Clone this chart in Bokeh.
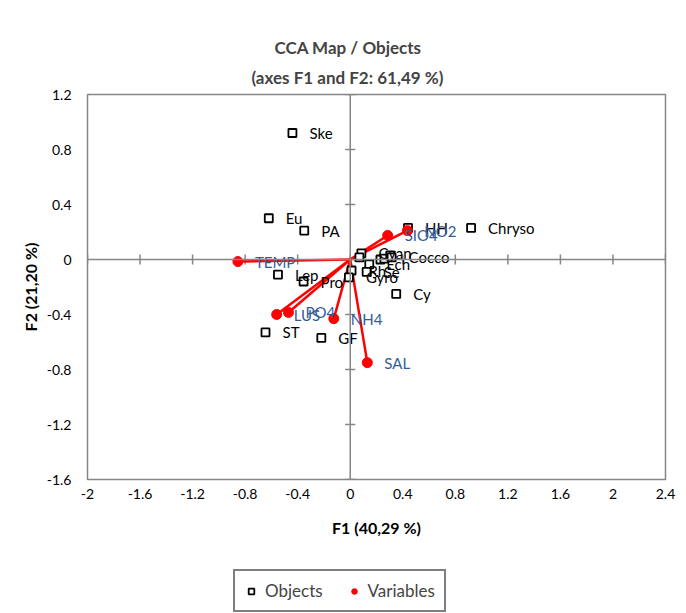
import math
from bokeh.plotting import figure
from bokeh.layouts import column
from bokeh.models import Title, Legend, LegendItem, Span, FixedTicker, NumeralTickFormatter, Range1d
from bokeh.core.properties import value
from bokeh.embed import file_html
from bokeh.resources import INLINE

# ---- data ----
obj_names = ["Ske", "Eu", "PA", "Chryso", "HH", "Lep", "Pro", "Cy", "ST", "GF",
             "Cyan", "", "Ech", "Se", "Rh", "Gyro", "", "", "", "Cocco"]
obj_f1 = [-0.44, -0.62, -0.35, 0.92, 0.44, -0.55, -0.355, 0.35, -0.645, -0.22,
          0.085, 0.07, 0.145, 0.125, 0.01, -0.01, 0.23, 0.26, 0.305, 0.315]
obj_f2 = [0.92, 0.30, 0.21, 0.23, 0.23, -0.11, -0.16, -0.25, -0.53, -0.57,
          0.045, 0.015, -0.035, -0.09, -0.08, -0.13, 0.0, 0.007, 0.03, 0.015]

var_names = ["TEMP", "SIO4", "NO2", "LUS", "PO4", "NH4", "SAL"]
var_f1 = [-0.855, 0.285, 0.435, -0.56, -0.47, -0.125, 0.13]
var_f2 = [-0.015, 0.175, 0.21, -0.40, -0.385, -0.43, -0.75]

x_ticks = [-2, -1.6, -1.2, -0.8, -0.4, 0, 0.4, 0.8, 1.2, 1.6, 2, 2.4]
y_ticks = [-1.6, -1.2, -0.8, -0.4, 0, 0.4, 0.8, 1.2]

legend_labels = ["Objects", "Variables"]

FONT = "Lato"
GRAY = "#868686"
BLUE = "#335C97"

p = figure(frame_width=578, frame_height=385, x_range=(-2, 2.4), y_range=(-1.6, 1.2),
           output_backend="svg", toolbar_location=None,
           min_border_left=87, min_border_right=21, min_border_top=94, min_border_bottom=88)
p.grid.visible = False
p.outline_line_color = GRAY
p.outline_line_width = 1.5
p.background_fill_color = "white"
p.border_fill_color = "white"

for ax, ticks in ((p.xaxis, x_ticks), (p.yaxis, y_ticks)):
    ax.ticker = FixedTicker(ticks=ticks)
    ax.formatter = NumeralTickFormatter(format="0.[0]")
    ax.axis_line_color = None
    ax.major_tick_line_color = None
    ax.minor_tick_line_color = None
    ax.major_tick_out = 0
    ax.major_tick_in = 0
    ax.major_label_text_font = FONT
    ax.major_label_text_font_size = "14px"
    ax.major_label_text_color = "black"
    ax.axis_label_text_font = FONT
    ax.axis_label_text_font_size = "16px"
    ax.axis_label_text_font_style = "bold"
    ax.axis_label_text_color = "black"

p.xaxis.axis_label = "F1 (40,29 %)"
p.yaxis.axis_label = "F2 (21,20 %)"
p.xaxis.major_label_standoff = 9
p.xaxis.axis_label_standoff = 16
p.yaxis.major_label_standoff = 16
p.yaxis.axis_label_standoff = 4

# central axes
p.add_layout(Span(location=0, dimension="height", line_color=GRAY, line_width=1.5))
p.add_layout(Span(location=0, dimension="width", line_color=GRAY, line_width=1.5))
p.scatter(x=x_ticks, y=[0] * len(x_ticks), marker="dash", angle=math.pi / 2, size=10,
          line_color=GRAY, line_width=1.5)
p.scatter(x=[0] * len(y_ticks), y=y_ticks, marker="dash", size=10,
          line_color=GRAY, line_width=1.5)

# variable vectors
p.segment(x0=[0] * len(var_f1), y0=[0] * len(var_f2), x1=var_f1, y1=var_f2,
          line_color="red", line_width=2.5)

# objects
sq_style = dict(marker="square", size=8, fill_color="white", line_color="black", line_width=1.8)
p.scatter(x=obj_f1, y=obj_f2, **sq_style)
p.text(x=obj_f1, y=obj_f2, text=obj_names, x_offset=17, text_baseline="middle",
       text_align="left", text_font=value(FONT), text_font_size="15px", text_color="black")

# variables
dot_style = dict(marker="circle", size=10, fill_color="red", line_color="red")
p.scatter(x=var_f1, y=var_f2, **dot_style)
p.text(x=var_f1, y=var_f2, text=var_names, x_offset=17, text_baseline="middle",
       text_align="left", text_font=value(FONT), text_font_size="15px", text_color=BLUE)

t2 = Title(text="(axes F1 and F2: 61,49 %)", align="left", offset=164, vertical_align="top",
           text_font=FONT, text_font_size="17px", text_font_style="bold", standoff=9)
p.add_layout(t2, "above")
t1 = Title(text="CCA Map / Objects", align="left", offset=187, vertical_align="top",
           text_font=FONT, text_font_size="17px", text_font_style="bold", standoff=6)
p.add_layout(t1, "above")

# legend strip below the chart (legend proxies carry no visible data)
lf = figure(width=686, height=46, x_range=Range1d(0, 1), y_range=Range1d(0, 1),
            output_backend="svg", toolbar_location=None, min_border=0)
lf.axis.visible = False
lf.grid.visible = False
lf.outline_line_color = None
lf_sq = lf.scatter(x=[float("nan")], y=[float("nan")], **sq_style)
lf_dot = lf.scatter(x=[float("nan")], y=[float("nan")], **dot_style)
legend = Legend(items=[LegendItem(label=legend_labels[0], renderers=[lf_sq]),
                       LegendItem(label=legend_labels[1], renderers=[lf_dot])],
                orientation="horizontal", location=(146, 1),
                border_line_color="black", border_line_width=2,
                label_text_font=FONT, label_text_font_size="17px",
                glyph_width=14, glyph_height=16, label_height=16, label_standoff=7,
                spacing=24, padding=9, margin=0)
lf.add_layout(legend, "center")

open("out.html", "w").write(file_html(column(p, lf, spacing=0), INLINE))
